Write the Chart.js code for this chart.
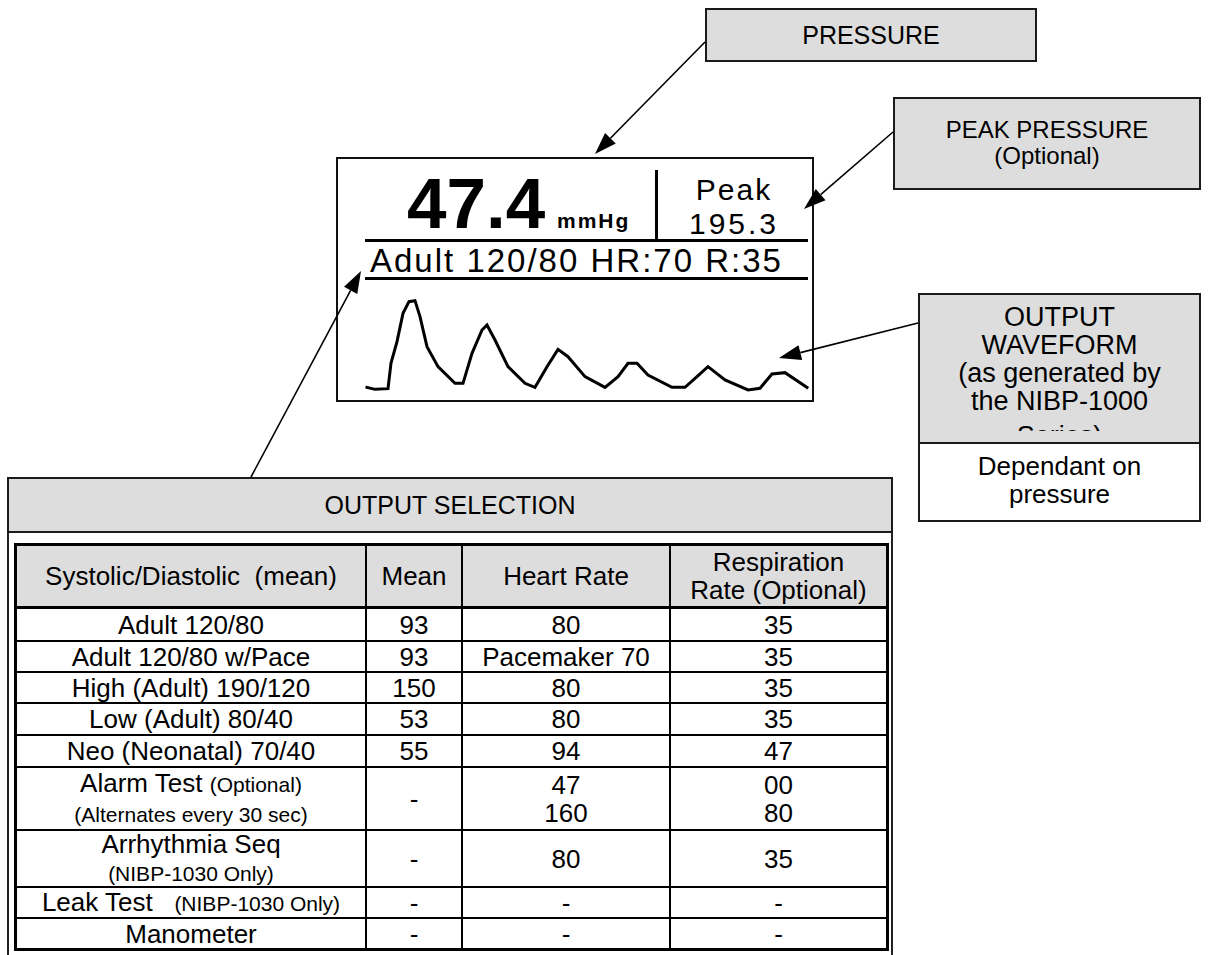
<!DOCTYPE html>
<html>
<head>
<meta charset="utf-8">
<script src="https://cdn.jsdelivr.net/npm/chart.js@4.4.0/dist/chart.umd.min.js"></script>
<style>
html,body{margin:0;padding:0;background:#fff;}
#page{position:relative;width:1215px;height:955px;overflow:hidden;font-family:"Liberation Sans",Arial,sans-serif;color:#000;}
.abs{position:absolute;white-space:nowrap;}
.callout{position:absolute;background:#dddddd;border:2px solid #1a1a1a;box-sizing:border-box;text-align:center;}
.lcd{position:absolute;left:336px;top:157px;width:478px;height:245px;border:2px solid #111;box-sizing:border-box;background:#fff;}
.rule{position:absolute;background:#000;}
#tbl{position:absolute;left:14px;top:543px;width:875px;height:408px;box-sizing:border-box;border-left:3px solid #000;border-top:3px solid #000;}
.cell{position:absolute;box-sizing:border-box;border-right:2px solid #000;border-bottom:2px solid #000;display:flex;align-items:center;justify-content:center;text-align:center;font-size:26px;line-height:28px;white-space:nowrap;}
.cell small{font-size:21px;}
.hdr{background:#dddddd;}
</style>
</head>
<body>
<div id="page">
  <!-- callouts -->
  <div class="callout" style="left:705px;top:8px;width:332px;height:54px;font-size:25px;line-height:50px;">PRESSURE</div>
  <div class="callout" style="left:893px;top:97px;width:308px;height:93px;font-size:24px;line-height:26px;padding-top:18px;">PEAK PRESSURE<br>(Optional)</div>
  <div class="callout" style="left:918px;top:293px;width:283px;height:151px;">
    <div style="position:absolute;left:0;right:0;top:8px;font-size:27px;line-height:28px;">OUTPUT<br>WAVEFORM<br>(as generated by<br>the NIBP-1000</div>
    <div style="position:absolute;left:0;right:0;top:127px;height:9px;overflow:hidden;"><div style="position:absolute;left:0;right:0;top:0;font-size:27px;line-height:28px;">Series)</div></div>
  </div>
  <div class="abs" style="left:918px;top:442px;width:283px;height:80px;border:2px solid #1a1a1a;box-sizing:border-box;background:#fff;text-align:center;font-size:26px;line-height:28px;padding-top:8px;">Dependant on<br>pressure</div>

  <!-- LCD display -->
  <div class="lcd"></div>
  <div class="abs" style="left:407px;top:168px;font-size:71px;line-height:71px;font-weight:bold;">47.4</div>
  <div class="abs" style="left:557px;top:210px;font-size:21px;line-height:21px;font-weight:bold;letter-spacing:2px;">mmHg</div>
  <div class="rule" style="left:655px;top:170px;width:3px;height:71px;"></div>
  <div class="abs" style="left:684px;top:173px;width:100px;text-align:center;font-size:30px;line-height:33px;letter-spacing:2px;">Peak</div>
  <div class="abs" style="left:684px;top:207px;width:100px;text-align:center;font-size:30px;line-height:33px;letter-spacing:3px;">195.3</div>
  <div class="rule" style="left:365px;top:239px;width:443px;height:3px;"></div>
  <div class="abs" style="left:370px;top:244px;font-size:33px;line-height:33px;letter-spacing:2px;">Adult 120/80 HR:70 R:35</div>
  <div class="rule" style="left:365px;top:277px;width:443px;height:3px;"></div>
  <canvas id="wave" width="460" height="110" style="position:absolute;left:356px;top:290px;width:460px;height:110px;"></canvas>

  <!-- output selection -->
  <div class="callout" style="left:7px;top:477px;width:886px;height:56px;font-size:25px;line-height:52px;">OUTPUT SELECTION</div>
  <div class="rule" style="left:7px;top:533px;width:2px;height:422px;background:#222;"></div>
  <div class="rule" style="left:891px;top:533px;width:2px;height:422px;background:#222;"></div>
  <div id="tbl"></div>

  <svg id="arrows" width="1215" height="955" style="position:absolute;left:0;top:0;pointer-events:none;"></svg>
</div>

<script>
// ---- waveform data (time in s, pressure in mmHg) ----
const waveTime = [0.01,0.09,0.22,0.25,0.31,0.37,0.43,0.49,0.54,0.61,0.72,0.89,0.97,1.06,1.16,1.21,1.29,1.42,1.59,1.69,1.81,1.92,2.02,2.19,2.39,2.52,2.62,2.71,2.82,3.06,3.19,3.31,3.42,3.59,3.82,3.94,4.06,4.19,4.41];
const wavePressure = [40.4,39.2,39.6,55.0,67.8,84.8,91.8,92.4,82.8,64.8,52.8,42.8,42.8,60.8,74.8,77.8,68.8,52.8,42.8,40.4,52.8,63.2,58.8,46.8,40.4,46.8,54.8,54.8,47.8,40.4,40.4,46.8,52.8,44.8,38.8,39.8,48.4,49.2,40.4];

// ---- table data ----
const headers = ["Systolic/Diastolic&nbsp; (mean)", "Mean", "Heart Rate", "Respiration<br>Rate (Optional)"];
const selections = ["Adult 120/80", "Adult 120/80 w/Pace", "High (Adult) 190/120", "Low (Adult) 80/40", "Neo (Neonatal) 70/40",
  "Alarm Test <small>(Optional)</small><br><small>(Alternates every 30 sec)</small>",
  "Arrhythmia Seq<br><small>(NIBP-1030 Only)</small>",
  "Leak Test&nbsp;&nbsp; <small>(NIBP-1030 Only)</small>",
  "Manometer"];
const meanValues = ["93", "93", "150", "53", "55", "-", "-", "-", "-"];
const heartRates = ["80", "Pacemaker 70", "80", "80", "94", "47<br>160", "80", "-", "-"];
const respRates = ["35", "35", "35", "35", "47", "00<br>80", "35", "-", "-"];

// ---- chart ----
new Chart(document.getElementById('wave'), {
  type: 'line',
  data: { datasets: [{
    data: waveTime.map((t, i) => ({ x: t, y: wavePressure[i] })),
    borderColor: '#000', borderWidth: 3, pointRadius: 0, tension: 0, fill: false,
    borderJoinStyle: 'miter', borderCapStyle: 'square'
  }]},
  options: {
    responsive: false, animation: false, events: [],
    layout: { padding: 0 },
    plugins: { legend: { display: false }, tooltip: { enabled: false } },
    scales: {
      x: { type: 'linear', display: false, min: -0.10, max: 4.50 },
      y: { type: 'linear', display: false, min: 32.8, max: 98.8 }
    }
  }
});

// ---- table layout ----
const colEdges = [0, 350, 446, 654, 872];
const rowEdges = [0, 63, 96, 127, 158, 190, 222, 285, 342, 373, 405];
const tbl = document.getElementById('tbl');
function addCell(r, c, html, hdr) {
  const d = document.createElement('div');
  d.className = 'cell' + (hdr ? ' hdr' : '');
  d.style.left = colEdges[c] + 'px';
  d.style.top = rowEdges[r] + 'px';
  d.style.width = (colEdges[c + 1] - colEdges[c]) + 'px';
  d.style.height = (rowEdges[r + 1] - rowEdges[r]) + 'px';
  if (c === 3) d.style.borderRightWidth = '3px';
  if (r === 0 || r === rowEdges.length - 2) d.style.borderBottomWidth = '3px';
  const s = document.createElement('div');
  s.innerHTML = html;
  d.appendChild(s);
  tbl.appendChild(d);
}
headers.forEach((h, c) => addCell(0, c, h, true));
selections.forEach((s, i) => {
  addCell(i + 1, 0, s);
  addCell(i + 1, 1, meanValues[i]);
  addCell(i + 1, 2, heartRates[i]);
  addCell(i + 1, 3, respRates[i]);
});

// ---- callout arrows ----
const arrows = [[705, 42, 595, 154], [893, 132, 804, 209], [918, 323, 779, 358], [251, 477, 361, 271]];
const svg = document.getElementById('arrows');
const NS = 'http://www.w3.org/2000/svg';
arrows.forEach(([x1, y1, x2, y2]) => {
  const dx = x2 - x1, dy = y2 - y1, L = Math.hypot(dx, dy);
  const ux = dx / L, uy = dy / L, len = 22, hw = 7.5;
  const bx = x2 - ux * len, by = y2 - uy * len;
  const line = document.createElementNS(NS, 'line');
  line.setAttribute('x1', x1); line.setAttribute('y1', y1);
  line.setAttribute('x2', bx); line.setAttribute('y2', by);
  line.setAttribute('stroke', '#000'); line.setAttribute('stroke-width', '1.6');
  svg.appendChild(line);
  const poly = document.createElementNS(NS, 'polygon');
  poly.setAttribute('points', `${x2},${y2} ${bx - uy * hw},${by + ux * hw} ${bx + uy * hw},${by - ux * hw}`);
  poly.setAttribute('fill', '#000');
  svg.appendChild(poly);
});
</script>
</body>
</html>
